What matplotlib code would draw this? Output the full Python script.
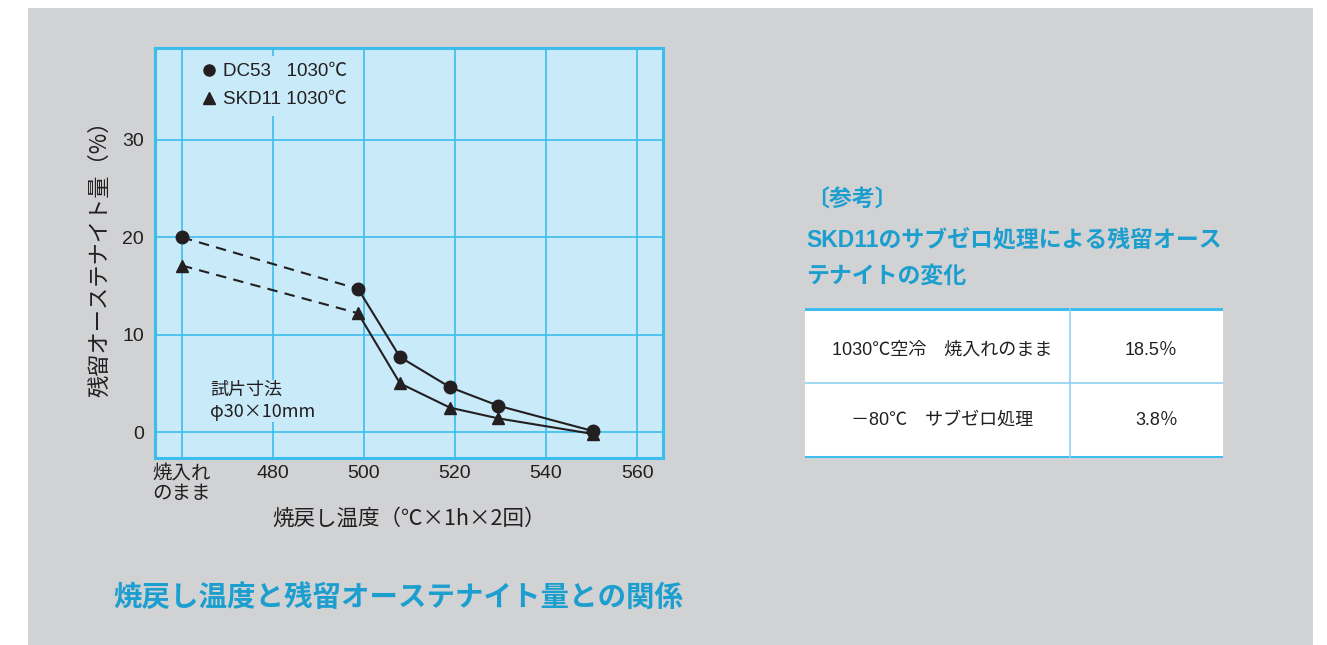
import numpy as np
import matplotlib
matplotlib.use("Agg")
import matplotlib.pyplot as plt
from matplotlib.lines import Line2D
from matplotlib.patches import Rectangle

plt.rcParams['font.family'] = ['Liberation Sans', 'Noto Sans CJK JP', 'DejaVu Sans']
JP = ['Noto Sans CJK JP', 'DejaVu Sans']

# data (460 stands for "as quenched")
temps = [460, 498.7, 507.9, 518.9, 529.5, 550.3]
dc53 = [20.0, 14.7, 7.7, 4.6, 2.7, 0.1]
skd11 = [17.1, 12.2, 5.0, 2.5, 1.4, -0.2]
xticks = [460, 480, 500, 520, 540, 560]
xticklabels = ['焼入れ\nのまま', '480', '500', '520', '540', '560']
yticks = [0, 10, 20, 30]
table_rows = ['1030℃空冷　焼入れのまま', '－80℃　サブゼロ処理']
table_vals = ['18.5％', '3.8％']

BG = '#d1d2d4'
FACE = '#c8eaf9'
GRID = '#3dbdee'
BLUE = '#1c9fcf'
INK = '#231f20'

W, H = 1327, 645
fig = plt.figure(figsize=(W / 100, H / 100), dpi=100, facecolor='white')
fig.patches.append(Rectangle((28 / W, 0), (1313 - 28) / W, 1 - 8 / H,
                             transform=fig.transFigure, facecolor=BG,
                             edgecolor='none', zorder=-10))

ax = fig.add_axes([155 / W, 1 - 458 / H, (663 - 155) / W, (458 - 48) / H])
ax.set_facecolor(FACE)
ax.set_xlim(454.07, 565.7)
ax.set_ylim(-2.67, 39.45)
ax.set_xticks(xticks)
ax.set_xticklabels(xticklabels, fontsize=14, color=INK, linespacing=1.2)
ax.set_yticks(yticks)
ax.tick_params(axis='y', labelsize=14, colors=INK, length=0, pad=8)
ax.tick_params(axis='x', length=0, pad=5, colors=INK)
ax.grid(True, color=GRID, lw=1.2)
ax.set_axisbelow(True)
for s in ax.spines.values():
    s.set_color(GRID)
    s.set_linewidth(2.2)

# dashed from "as quenched" to first tempering point, solid after
for vals, mk, ms in [(dc53, 'o', 9), (skd11, '^', 8)]:
    ax.plot(temps[:2], vals[:2], color=INK, lw=1.5, ls=(0, (5, 3.5)), zorder=3)
    ax.plot(temps[1:], vals[1:], color=INK, lw=1.5, zorder=3)
    ax.plot(temps, vals, ls='none', marker=mk, ms=ms, color=INK, zorder=4)

handles = [Line2D([], [], ls='none', marker='o', ms=8, color=INK),
           Line2D([], [], ls='none', marker='^', ms=8, color=INK)]
leg = ax.legend(handles, ['DC53   1030℃', 'SKD11 1030℃'], loc='upper left',
                bbox_to_anchor=(0.065, 1.0), frameon=True, fontsize=13.5,
                handlelength=0.6, handletextpad=0.45, labelspacing=0.6,
                borderpad=0.4, borderaxespad=0.4)
leg.get_frame().set_facecolor(FACE)
leg.get_frame().set_edgecolor('none')
leg.get_frame().set_alpha(1)
for t in leg.get_texts():
    t.set_color(INK)

ax.text(466.2, 3.2, '試片寸法\nφ30×10mm', fontsize=13, color=INK, family=JP,
        linespacing=1.25, va='center', ha='left',
        bbox=dict(facecolor=FACE, edgecolor='none', pad=1))

ax.set_ylabel('残留オーステナイト量（%）', fontsize=16, color=INK, family=JP,
              labelpad=8)
ax.set_xlabel('焼戻し温度（℃×1h×2回）', fontsize=15.5, color=INK, family=JP,
              labelpad=4)

fig.text(113 / W, 1 - 598 / H, '焼戻し温度と残留オーステナイト量との関係',
         fontsize=20.5, fontweight='bold', color=BLUE, va='center', ha='left')

fig.text(806 / W, 1 - 200 / H, '〔参考〕', fontsize=16.5, fontweight='bold',
         color=BLUE, va='center', ha='left')
fig.text(806 / W, 1 - 240 / H, 'SKD11のサブゼロ処理による残留オース',
         fontsize=16.5, fontweight='bold', color=BLUE, va='center', ha='left')
fig.text(806 / W, 1 - 276 / H, 'テナイトの変化', fontsize=16.5,
         fontweight='bold', color=BLUE, va='center', ha='left')

# reference table
tx = fig.add_axes([805 / W, 1 - 458 / H, (1223 - 805) / W, (458 - 308) / H])
tx.set_xlim(805, 1223)
tx.set_ylim(458, 308)
tx.axis('off')
tx.add_patch(Rectangle((805, 308), 418, 150, facecolor='white', edgecolor='none'))
tx.plot([805, 1223], [309, 309], color=GRID, lw=2.2)
tx.plot([805, 1223], [457, 457], color=GRID, lw=2.2)
tx.plot([805, 1223], [383, 383], color='#8fd3f0', lw=1.2)
tx.plot([1070, 1070], [309, 457], color='#8fd3f0', lw=1.2)
for i, (lab, val) in enumerate(zip(table_rows, table_vals)):
    yc = 350 + i * 70
    tx.text(942, yc, lab, fontsize=13, color=INK, ha='center', va='center')
    tx.text(1178, yc, val, fontsize=13, color=INK, ha='right', va='center')

fig.savefig('out.png', dpi=100, facecolor='white')
